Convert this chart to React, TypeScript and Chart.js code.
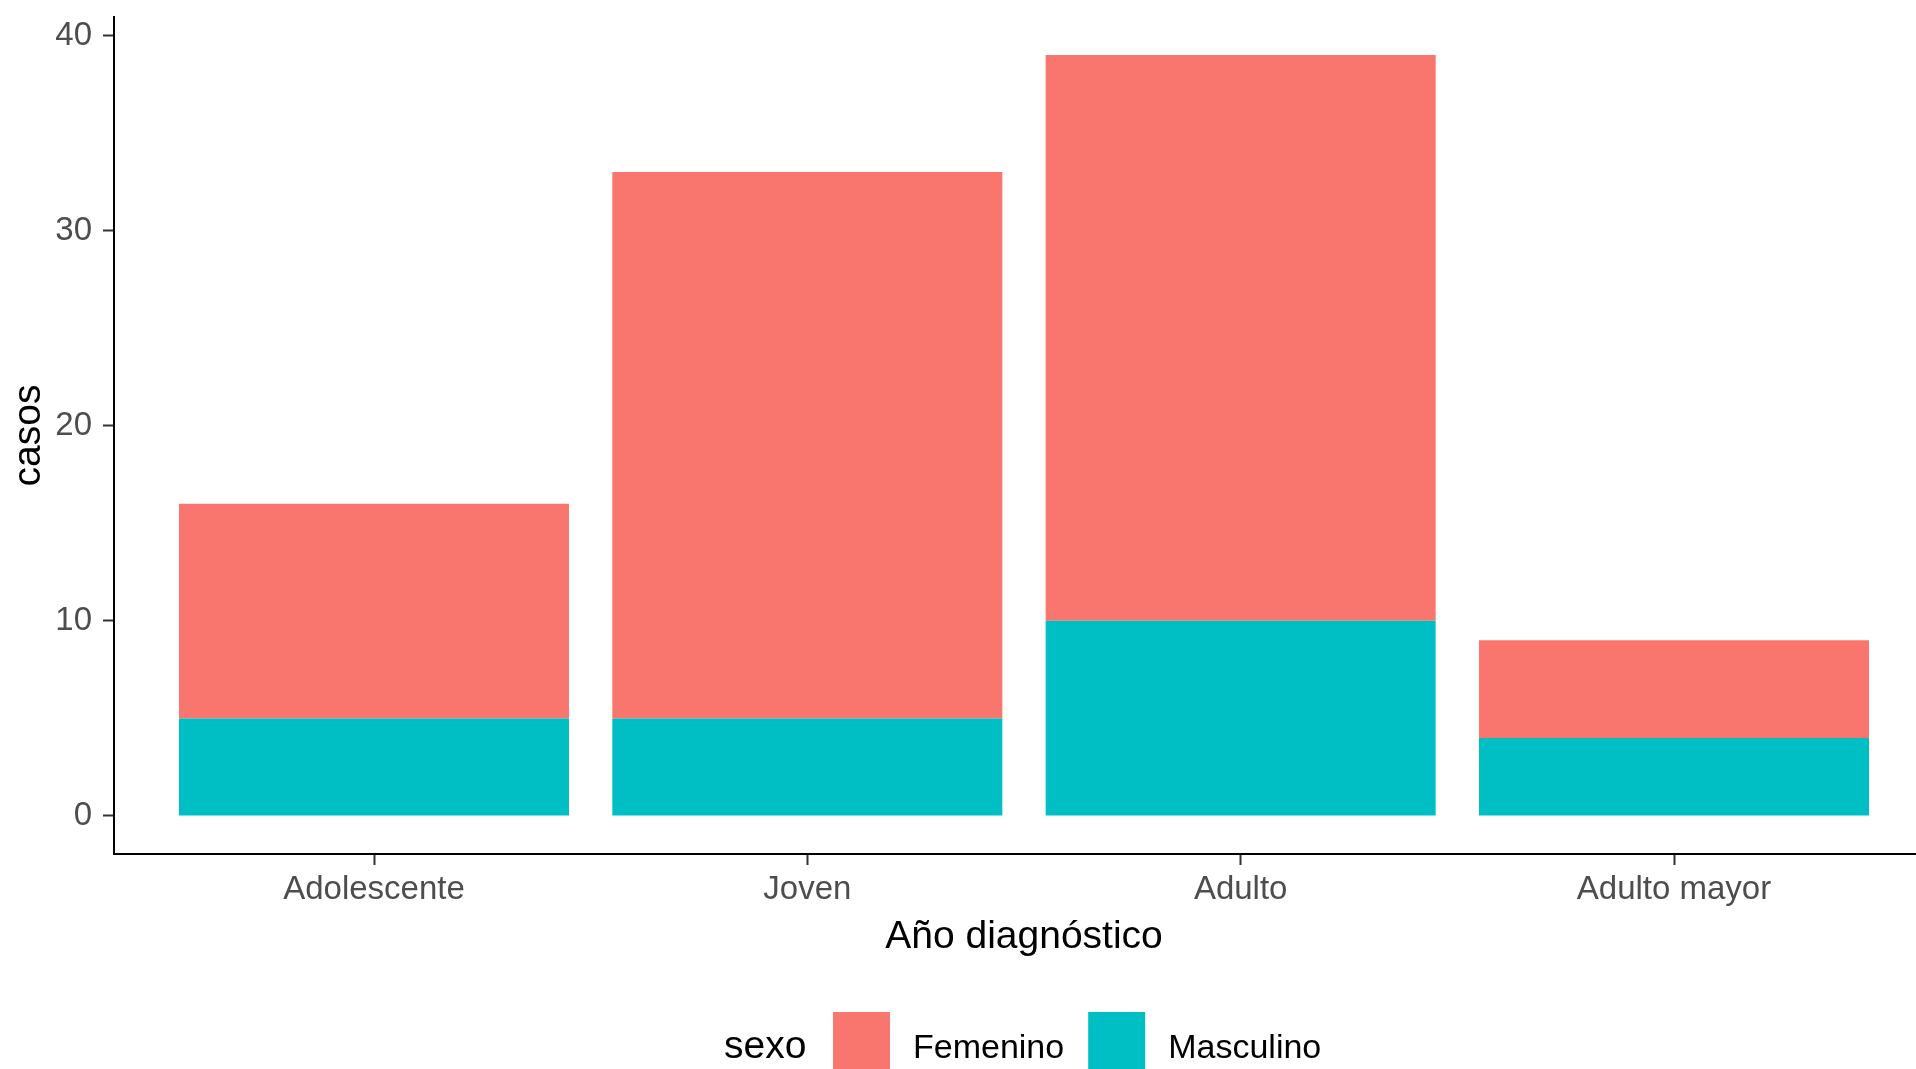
import React, { useEffect, useRef } from 'react';
import { Chart, registerables } from 'chart.js';

Chart.register(...registerables);

// ---- data ----
const categories = ['Adolescente', 'Joven', 'Adulto', 'Adulto mayor'];
const masculino = [5, 5, 10, 4];
const femenino = [11, 28, 29, 5];
const yTickValues = [0, 10, 20, 30, 40];
const legendNames = ['Femenino', 'Masculino'];
const legendColors = ['#F8766D', '#00BFC4'];
const xTitle = 'Año diagnóstico';
const yTitle = 'casos';
const legendTitle = 'sexo';

const FONT = '"Liberation Sans", Arial, Helvetica, sans-serif';

export default function App() {
  const canvasRef = useRef<HTMLCanvasElement>(null);

  useEffect(() => {
    const canvas = canvasRef.current;
    if (!canvas) return;

    const legendPlugin = {
      id: 'ggLegend',
      afterDraw(chart: any) {
        const ctx = chart.ctx as CanvasRenderingContext2D;
        ctx.save();
        ctx.textBaseline = 'alphabetic';
        ctx.textAlign = 'left';
        ctx.fillStyle = '#000000';
        ctx.font = `39px ${FONT}`;
        ctx.fillText(legendTitle, 724, 1058);
        let x = 833;
        legendNames.forEach((name, i) => {
          ctx.fillStyle = legendColors[i];
          ctx.fillRect(x, 1012, 57, 57);
          x += 57 + 23;
          ctx.fillStyle = '#000000';
          ctx.font = `34px ${FONT}`;
          ctx.fillText(name, x, 1058);
          x += ctx.measureText(name).width + 24;
        });
        ctx.restore();
      },
    };

    const chart = new Chart(canvas, {
      type: 'bar',
      data: {
        datasets: [
          {
            label: 'Masculino',
            data: categories.map((_, i) => ({ x: i + 1, y: masculino[i] })),
            backgroundColor: '#00BFC4',
            borderWidth: 0,
            stack: 's',
          },
          {
            label: 'Femenino',
            data: categories.map((_, i) => ({ x: i + 1, y: femenino[i] })),
            backgroundColor: '#F8766D',
            borderWidth: 0,
            stack: 's',
          },
        ],
      },
      options: {
        responsive: false,
        animation: false,
        devicePixelRatio: 1,
        layout: { padding: { left: 0, top: 17, right: 6, bottom: 0 } },
        datasets: {
          bar: { barPercentage: 0.9, categoryPercentage: 1 },
        },
        plugins: {
          legend: { display: false },
          tooltip: { enabled: false },
        },
        scales: {
          x: {
            type: 'linear',
            stacked: true,
            offset: false,
            min: 0.4,
            max: 4.6,
            afterFit: (scale: any) => {
              scale.height = 215;
              scale.paddingLeft = 0;
              scale.paddingRight = 0;
            },
            afterBuildTicks: (scale: any) => {
              scale.ticks = categories.map((_, i) => ({ value: i + 1 }));
            },
            ticks: {
              autoSkip: false,
              maxRotation: 0,
              padding: 5,
              color: '#4D4D4D',
              font: { family: FONT, size: 33 },
              callback: (v: any) => categories[Number(v) - 1] ?? '',
            },
            grid: {
              display: true,
              offset: false,
              drawOnChartArea: false,
              drawTicks: true,
              tickLength: 11,
              tickColor: '#333333',
              tickWidth: 2,
              color: '#333333',
            },
            border: { display: true, color: '#000000', width: 2 },
            title: {
              display: true,
              text: xTitle,
              color: '#000000',
              font: { family: FONT, size: 39 },
              padding: { top: 0, bottom: 108.5 },
            },
          },
          y: {
            type: 'linear',
            stacked: true,
            min: -1.95,
            max: 40.95,
            afterFit: (scale: any) => {
              scale.width = 114;
              scale.paddingTop = 0;
              scale.paddingBottom = 0;
            },
            afterBuildTicks: (scale: any) => {
              scale.ticks = yTickValues.map((v) => ({ value: v }));
            },
            ticks: {
              padding: 11,
              color: '#4D4D4D',
              font: { family: FONT, size: 33 },
            },
            grid: {
              display: true,
              drawOnChartArea: false,
              drawTicks: true,
              tickLength: 11,
              tickColor: '#333333',
              tickWidth: 2,
              color: '#333333',
            },
            border: { display: true, color: '#000000', width: 2 },
            title: {
              display: true,
              text: yTitle,
              color: '#000000',
              font: { family: FONT, size: 39 },
              padding: { top: 6, bottom: 0 },
            },
          },
        },
      },
      plugins: [legendPlugin],
    } as any);

    return () => chart.destroy();
  }, []);

  return (
    <div
      style={{
        position: 'fixed',
        left: 0,
        top: 0,
        width: 1916,
        height: 1069,
        overflow: 'hidden',
        background: '#ffffff',
      }}
    >
      <canvas
        ref={canvasRef}
        width={1940}
        height={1069}
        style={{ width: 1940, height: 1069, display: 'block' }}
      />
    </div>
  );
}
